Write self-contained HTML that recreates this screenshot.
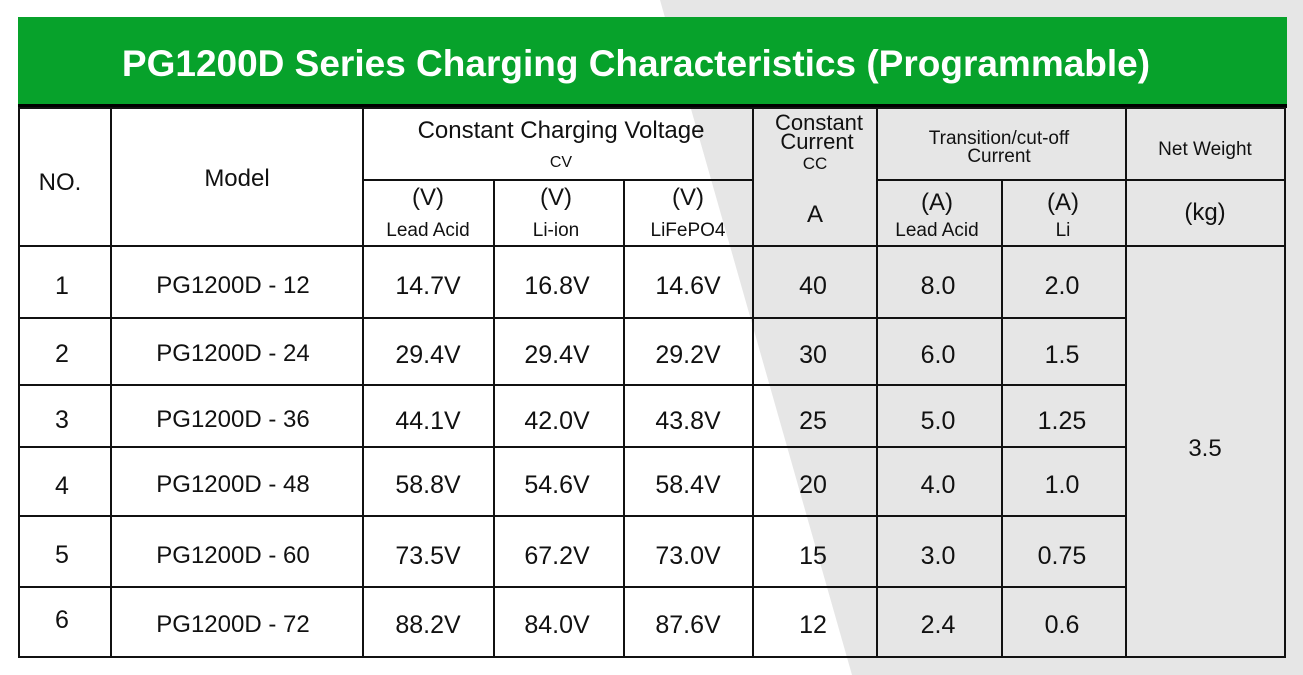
<!DOCTYPE html>
<html><head><meta charset="utf-8"><style>
html,body{margin:0;padding:0;background:#fff;}
svg{display:block;}
text{font-family:"Liberation Sans",sans-serif;fill:#111;}
.n{font-size:25px;text-anchor:middle;}
.m{font-size:24px;text-anchor:middle;}
.h{font-size:19px;text-anchor:middle;}
</style></head><body>
<svg width="1303" height="675" viewBox="0 0 1303 675">
<polygon points="660,0 1303,0 1303,675 852,675" fill="#e6e6e6"/>
<rect x="18" y="17" width="1269" height="88" fill="#07a22b"/>
<text x="636" y="76" style="font-size:37px;font-weight:bold;fill:#fff;text-anchor:middle">PG1200D Series Charging Characteristics (Programmable)</text>
<rect x="18" y="104" width="1269" height="4" fill="#000"/>
<g stroke="#111" stroke-width="2" fill="none">
<rect x="19" y="108" width="1266" height="549"/>
<line x1="111" y1="108" x2="111" y2="657"/>
<line x1="363" y1="108" x2="363" y2="657"/>
<line x1="494" y1="180" x2="494" y2="657"/>
<line x1="624" y1="180" x2="624" y2="657"/>
<line x1="753" y1="108" x2="753" y2="657"/>
<line x1="877" y1="108" x2="877" y2="657"/>
<line x1="1002" y1="180" x2="1002" y2="657"/>
<line x1="1126" y1="108" x2="1126" y2="657"/>
<line x1="363" y1="180" x2="753" y2="180"/>
<line x1="877" y1="180" x2="1285" y2="180"/>
<line x1="19" y1="246" x2="1285" y2="246"/>
<line x1="19" y1="318" x2="1126" y2="318"/>
<line x1="19" y1="385" x2="1126" y2="385"/>
<line x1="19" y1="447" x2="1126" y2="447"/>
<line x1="19" y1="516" x2="1126" y2="516"/>
<line x1="19" y1="587" x2="1126" y2="587"/>
</g>
<text class="m" x="60" y="190">NO.</text>
<text class="m" x="237" y="186">Model</text>
<text class="m" x="561" y="138">Constant Charging Voltage</text>
<text class="h" x="561" y="167" style="font-size:16px">CV</text>
<text class="m" x="819" y="130" style="font-size:22px">Constant</text>
<text class="m" x="817" y="149" style="font-size:22px">Current</text>
<text class="h" x="815" y="169" style="font-size:17px">CC</text>
<text class="h" x="999" y="144">Transition/cut-off</text>
<text class="h" x="999" y="162">Current</text>
<text class="h" x="1205" y="155">Net Weight</text>
<text class="m" x="428" y="205">(V)</text><text class="h" x="428" y="236">Lead Acid</text>
<text class="m" x="556" y="205">(V)</text><text class="h" x="556" y="236">Li-ion</text>
<text class="m" x="688" y="205">(V)</text><text class="h" x="688" y="236">LiFePO4</text>
<text class="m" x="815" y="222">A</text>
<text class="m" x="937" y="210">(A)</text><text class="h" x="937" y="236">Lead Acid</text>
<text class="m" x="1063" y="210">(A)</text><text class="h" x="1063" y="236">Li</text>
<text class="m" x="1205" y="220">(kg)</text>
<text class="m" x="1205" y="456">3.5</text>
<g>
<text class="n" x="62" y="294">1</text><text class="m" x="233" y="293">PG1200D - 12</text><text class="n" x="428" y="294">14.7V</text><text class="n" x="557" y="294">16.8V</text><text class="n" x="688" y="294">14.6V</text><text class="n" x="813" y="294">40</text><text class="n" x="938" y="294">8.0</text><text class="n" x="1062" y="294">2.0</text>
<text class="n" x="62" y="362">2</text><text class="m" x="233" y="361">PG1200D - 24</text><text class="n" x="428" y="363">29.4V</text><text class="n" x="557" y="363">29.4V</text><text class="n" x="688" y="363">29.2V</text><text class="n" x="813" y="363">30</text><text class="n" x="938" y="363">6.0</text><text class="n" x="1062" y="363">1.5</text>
<text class="n" x="62" y="428">3</text><text class="m" x="233" y="427">PG1200D - 36</text><text class="n" x="428" y="429">44.1V</text><text class="n" x="557" y="429">42.0V</text><text class="n" x="688" y="429">43.8V</text><text class="n" x="813" y="429">25</text><text class="n" x="938" y="429">5.0</text><text class="n" x="1062" y="429">1.25</text>
<text class="n" x="62" y="494">4</text><text class="m" x="233" y="492">PG1200D - 48</text><text class="n" x="428" y="493">58.8V</text><text class="n" x="557" y="493">54.6V</text><text class="n" x="688" y="493">58.4V</text><text class="n" x="813" y="493">20</text><text class="n" x="938" y="493">4.0</text><text class="n" x="1062" y="493">1.0</text>
<text class="n" x="62" y="563">5</text><text class="m" x="233" y="563">PG1200D - 60</text><text class="n" x="428" y="564">73.5V</text><text class="n" x="557" y="564">67.2V</text><text class="n" x="688" y="564">73.0V</text><text class="n" x="813" y="564">15</text><text class="n" x="938" y="564">3.0</text><text class="n" x="1062" y="564">0.75</text>
<text class="n" x="62" y="628">6</text><text class="m" x="233" y="632">PG1200D - 72</text><text class="n" x="428" y="633">88.2V</text><text class="n" x="557" y="633">84.0V</text><text class="n" x="688" y="633">87.6V</text><text class="n" x="813" y="633">12</text><text class="n" x="938" y="633">2.4</text><text class="n" x="1062" y="633">0.6</text>
</g>
</svg>
</body></html>
